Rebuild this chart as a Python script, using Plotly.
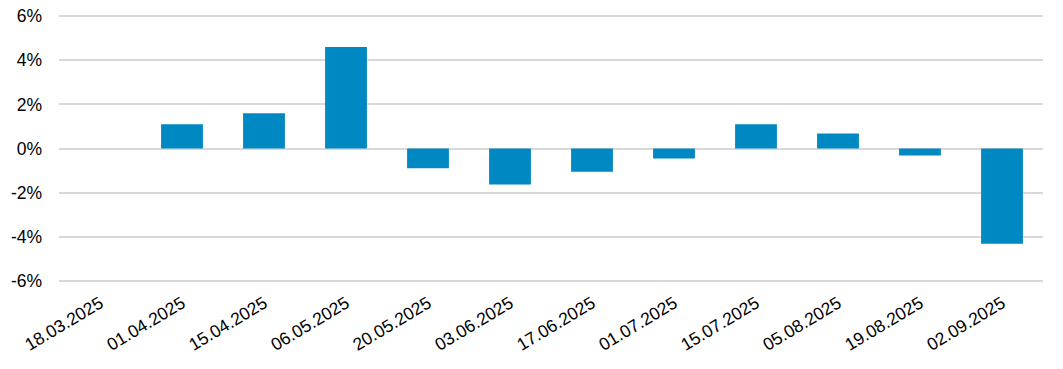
import plotly.graph_objects as go

dates = ["18.03.2025", "01.04.2025", "15.04.2025", "06.05.2025", "20.05.2025", "03.06.2025",
         "17.06.2025", "01.07.2025", "15.07.2025", "05.08.2025", "19.08.2025", "02.09.2025"]
values = [0.0, 1.1, 1.6, 4.6, -0.9, -1.63, -1.05, -0.45, 1.1, 0.68, -0.32, -4.32]
y_ticks = [-6, -4, -2, 0, 2, 4, 6]
y_labels = ["-6%", "-4%", "-2%", "0%", "2%", "4%", "6%"]

fig = go.Figure(go.Bar(x=dates, y=values, marker=dict(color="#0088c2", line=dict(width=0)),
                       width=0.51))

fig.update_layout(
    width=1063, height=369,
    margin=dict(l=59, r=20, t=14, b=86),
    paper_bgcolor="white", plot_bgcolor="white",
    font=dict(family="Liberation Sans, Arial, sans-serif", size=17, color="#000000"),
    showlegend=False,
)
fig.update_yaxes(range=[-6.1, 6.1], tickvals=y_ticks, ticktext=y_labels, automargin=False,
                 showgrid=True, gridcolor="#d9d9d9", gridwidth=2,
                 zeroline=True, zerolinecolor="#d9d9d9", zerolinewidth=2,
                 showline=False, ticks="", ticklen=0, ticklabelstandoff=16,
                 ticklabeloverflow="allow", tickfont=dict(size=17.5))
fig.update_xaxes(type="category", tickangle=-31, showgrid=False, showline=False, automargin=False,
                 ticks="", tickfont=dict(size=17.5), ticklabelstandoff=6, ticklabeloverflow="allow")

fig.write_html("out.html", config={"displayModeBar": False},
               post_script="document.body.style.margin='0';document.body.style.overflow='hidden';")
